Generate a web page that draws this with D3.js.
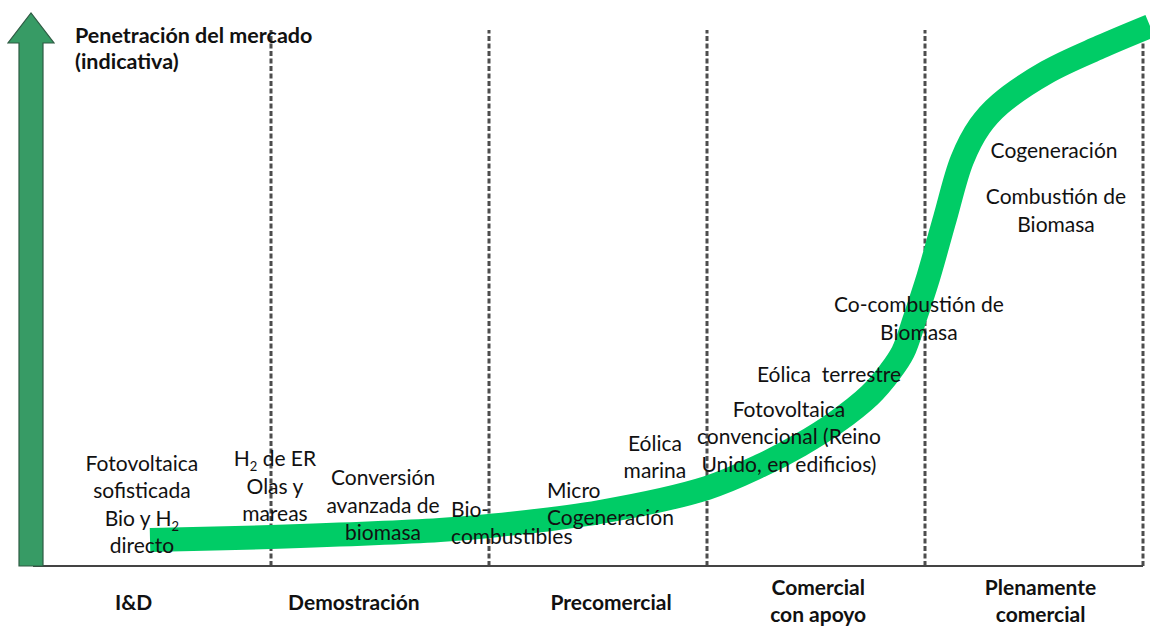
<!DOCTYPE html>
<html>
<head>
<meta charset="utf-8">
<script src="https://cdn.jsdelivr.net/npm/d3@7"></script>
<style>
  body { margin: 0; background: #fff; }
  svg { display: block; font-family: Lato, "Open Sans", sans-serif; }
  .tech { font-size: 21px; fill: #111; white-space: pre; }
  .stage { font-size: 21px; font-weight: bold; fill: #111; }
  .title { font-size: 21.5px; font-weight: bold; fill: #111; }
</style>
</head>
<body>
<svg id="chart"></svg>
<script>
// stages of maturity (x axis, one unit per stage)
const stageNames = [["I&D"], ["Demostración"], ["Precomercial"], ["Comercial", "con apoyo"], ["Plenamente", "comercial"]];
const stageLabelPos = [0.37, 1.38, 2.56, 3.51, 4.53];
const stageBounds = [1, 2, 3, 4, 5];

// market penetration curve (x in stage units, y in % indicative)
const curveX = [0.445, 1.0, 1.775, 2.0, 2.509, 3.0, 3.243, 3.427, 3.587, 3.748, 3.839, 3.899, 3.954, 4.014, 4.092, 4.170, 4.252, 4.344, 4.560, 4.803, 5.032];
const curveY = [4.76, 5.31, 6.59, 7.33, 9.89, 14.29, 18.32, 22.16, 26.19, 31.32, 35.53, 39.19, 45.42, 52.75, 63.74, 74.36, 80.59, 84.62, 90.48, 95.05, 98.9];

// technology labels: lines, stage position, penetration of first line
const techLines = [
  ["Fotovoltaica", "sofisticada", "Bio y H|2", "directo"],
  ["H|2 de ER", "Olas y", "mareas"],
  ["Conversión", "avanzada de", "biomasa"],
  ["Bio-", "combustibles"],
  ["Micro", "Cogeneración"],
  ["Eólica", "marina"],
  ["Fotovoltaica", "convencional (Reino", "Unido, en edificios)"],
  ["Eólica  terrestre"],
  ["Co-combustión de", "Biomasa"],
  ["Cogeneración"],
  ["Combustión de", "Biomasa"]
];
const techX = [0.408, 1.018, 1.514, 1.826, 2.266, 2.761, 3.376, 3.560, 3.972, 4.592, 4.601];
const techY = [17.4, 18.3, 14.8, 9.0, 12.5, 21.1, 27.3, 33.7, 46.5, 74.7, 66.3];
const techAlign = ["middle", "middle", "middle", "start", "start", "middle", "middle", "middle", "middle", "middle", "middle"];

const width = 1150, height = 626;
const lineGap = 27.5;

const svg = d3.select("#chart").attr("width", width).attr("height", height);

const x = d3.scaleLinear().domain([0, 5]).range([53, 1143]);
const y = d3.scaleLinear().domain([0, 100]).range([566, 20]);

// dashed stage boundaries
svg.selectAll(".bound")
  .data(stageBounds)
  .enter().append("line")
  .attr("class", "bound")
  .attr("x1", d => x(d)).attr("x2", d => x(d))
  .attr("y1", y(0)).attr("y2", 30)
  .attr("stroke", "#4d4d4d")
  .attr("stroke-width", 3)
  .attr("stroke-dasharray", "5,2.5");

// baseline
svg.append("line")
  .attr("x1", 33).attr("x2", x(5))
  .attr("y1", y(0)).attr("y2", y(0))
  .attr("stroke", "#444")
  .attr("stroke-width", 2);

// vertical arrow (y axis)
const ax = 31;
svg.append("path")
  .attr("d", `M${ax - 12},${y(0)} L${ax - 12},43 L${ax - 23},43 L${ax},13 L${ax + 23},43 L${ax + 12},43 L${ax + 12},${y(0)} Z`)
  .attr("fill", "#379b65")
  .attr("stroke", "#2e5b43")
  .attr("stroke-width", 1.2);

// curve
const pts = curveX.map((v, i) => [v, curveY[i]]);
const line = d3.line().x(d => x(d[0])).y(d => y(d[1])).curve(d3.curveCatmullRom.alpha(0.5));
svg.append("path")
  .datum(pts)
  .attr("d", line)
  .attr("fill", "none")
  .attr("stroke", "#00cc66")
  .attr("stroke-width", 24);

// title
const title = svg.append("text").attr("class", "title").attr("x", 75).attr("y", 43);
title.append("tspan").attr("x", 75).text("Penetración del mercado");
title.append("tspan").attr("x", 75).attr("dy", 26).text("(indicativa)");

// helper: write a line with "|" marking a subscript
function writeLine(t, str) {
  const parts = str.split("|");
  t.append("tspan").text(parts[0]);
  if (parts.length > 1) {
    const sub = parts[1].slice(0, 1), rest = parts[1].slice(1);
    t.append("tspan").attr("font-size", "13px").attr("dy", 5).text(sub);
    if (rest) t.append("tspan").attr("dy", -5).text(rest);
  }
}

// technology labels
techLines.forEach((lines, i) => {
  lines.forEach((str, j) => {
    const t = svg.append("text")
      .attr("class", "tech")
      .attr("x", x(techX[i]))
      .attr("y", y(techY[i]) + j * lineGap)
      .attr("text-anchor", techAlign[i]);
    writeLine(t, str);
  });
});

// stage labels
stageNames.forEach((lines, i) => {
  const top = lines.length > 1 ? 595 : 610;
  lines.forEach((str, j) => {
    svg.append("text")
      .attr("class", "stage")
      .attr("x", x(stageLabelPos[i]))
      .attr("y", top + j * 27)
      .attr("text-anchor", "middle")
      .text(str);
  });
});
</script>
</body>
</html>
